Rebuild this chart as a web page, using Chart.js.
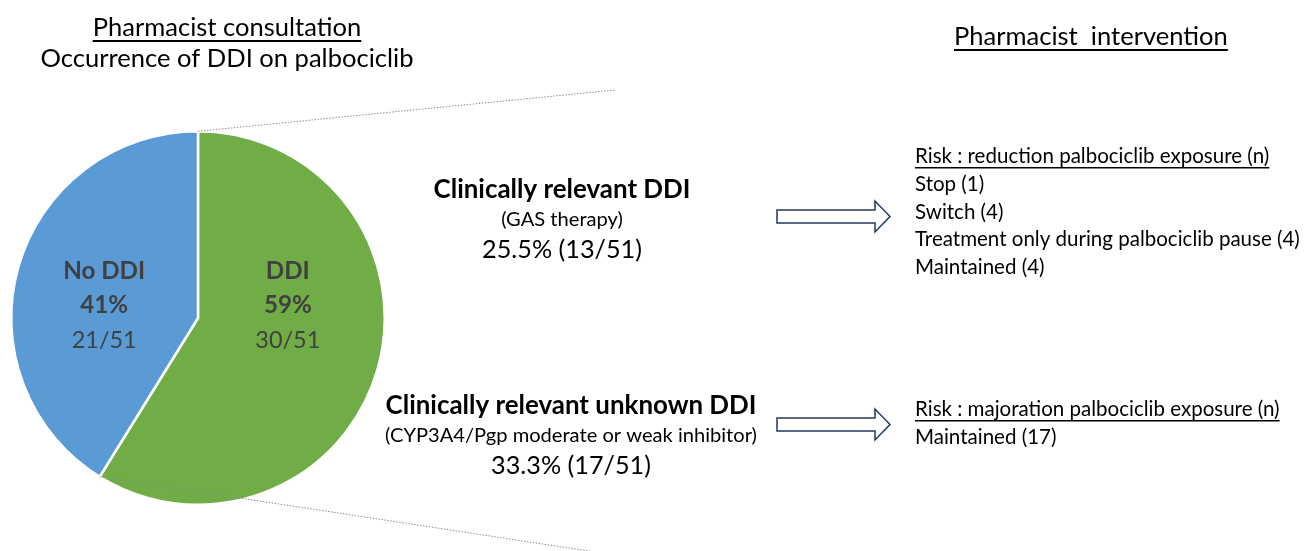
<!DOCTYPE html>
<html>
<head>
<meta charset="utf-8">
<title>Pharmacist consultation – DDI on palbociclib</title>
<script src="https://cdn.jsdelivr.net/npm/chart.js@4/dist/chart.umd.min.js"></script>
<style>
  html, body { margin: 0; padding: 0; background: #ffffff; }
  #wrap { width: 1314px; height: 551px; position: relative; }
</style>
</head>
<body>
<div id="wrap"><canvas id="c" width="1314" height="551"></canvas></div>
<script>
// ---- data ----
const categories = ['DDI', 'No DDI'];
const patientCounts = [30, 21];
const sliceColors = ['#70AD47', '#5B9BD5'];

const ddiGroups = ['Clinically relevant DDI', 'Clinically relevant unknown DDI'];
const ddiGroupNotes = ['(GAS therapy)', '(CYP3A4/Pgp moderate or weak inhibitor)'];
const ddiGroupCounts = [13, 17];

const riskHeaders = ['Risk : reduction palbociclib exposure (n)', 'Risk : majoration palbociclib exposure (n)'];
const reductionActions = ['Stop', 'Switch', 'Treatment only during palbociclib pause', 'Maintained'];
const reductionCounts = [1, 4, 4, 4];
const majorationActions = ['Maintained'];
const majorationCounts = [17];

const titleLeft = ['Pharmacist consultation', 'Occurrence of DDI on palbociclib'];
const titleRight = 'Pharmacist  intervention';

// ---- drawing helpers ----
const FAMILY = 'Lato, "Open Sans", sans-serif';
const total = patientCounts.reduce((a, b) => a + b, 0);

function sizeFor(ctx, text, weight, width) {
  ctx.font = `${weight} 100px ${FAMILY}`;
  return 100 * width / ctx.measureText(text).width;
}
function put(ctx, text, x, y, size, weight, color, align, underline) {
  ctx.font = `${weight} ${size}px ${FAMILY}`;
  ctx.fillStyle = color;
  ctx.textAlign = align;
  ctx.textBaseline = 'alphabetic';
  ctx.fillText(text, x, y);
  if (underline) {
    const w = ctx.measureText(text).width;
    const x0 = align === 'center' ? x - w / 2 : x;
    ctx.beginPath();
    ctx.strokeStyle = color;
    ctx.lineWidth = underline;
    ctx.moveTo(x0, y + 4 + underline / 2);
    ctx.lineTo(x0 + w, y + 4 + underline / 2);
    ctx.stroke();
  }
}
function blockArrow(ctx, x0, x1, cy) {
  const head = 15, half = 6.5, halfHead = 15.5;
  ctx.beginPath();
  ctx.moveTo(x0, cy - half);
  ctx.lineTo(x1 - head, cy - half);
  ctx.lineTo(x1 - head, cy - halfHead);
  ctx.lineTo(x1, cy);
  ctx.lineTo(x1 - head, cy + halfHead);
  ctx.lineTo(x1 - head, cy + half);
  ctx.lineTo(x0, cy + half);
  ctx.closePath();
  ctx.fillStyle = '#ffffff';
  ctx.fill();
  ctx.strokeStyle = '#1F3864';
  ctx.lineWidth = 1.5;
  ctx.stroke();
}
function pct(n, digits) { return (100 * n / total).toFixed(digits); }

const overlay = {
  id: 'overlay',
  afterDatasetsDraw(chart) {
    const ctx = chart.ctx;
    const arcs = chart.getDatasetMeta(0).data;
    const ddiArc = arcs[0];
    const cx = ddiArc.x, cy = ddiArc.y, r = ddiArc.outerRadius;
    ctx.save();

    // dotted zoom lines from the DDI slice toward the breakdown
    ctx.strokeStyle = '#8c8c8c';
    ctx.lineWidth = 1;
    ctx.setLineDash([1.5, 1.5]);
    ctx.beginPath();
    ctx.moveTo(cx + r * Math.cos(ddiArc.startAngle), cy + r * Math.sin(ddiArc.startAngle));
    ctx.lineTo(615, 90);
    ctx.moveTo(cx + r * Math.cos(ddiArc.endAngle), cy + r * Math.sin(ddiArc.endAngle));
    ctx.lineTo(602, 553);
    ctx.stroke();
    ctx.setLineDash([]);

    // slice labels
    const boldSize = sizeFor(ctx, 'No DDI', 'bold', 82);
    const fracSize = sizeFor(ctx, '21/51', 'normal', 65);
    const nudge = [0, -4];
    arcs.forEach((arc, i) => {
      const p = arc.getCenterPoint();
      const x = p.x + nudge[i];
      const v = patientCounts[i];
      put(ctx, categories[i], x, cy - 39, boldSize, 'bold', '#404040', 'center');
      put(ctx, Math.round(100 * v / total) + '%', x, cy - 5, boldSize, 'bold', '#404040', 'center');
      put(ctx, v + '/' + total, x, cy + 30, fracSize, 'normal', '#404040', 'center');
    });

    // titles
    const tSize = sizeFor(ctx, titleLeft[1], 'normal', 373);
    put(ctx, titleLeft[0], 227, 36, tSize, 'normal', '#000', 'center', 2);
    put(ctx, titleLeft[1], 227, 67, tSize, 'normal', '#000', 'center');
    put(ctx, titleRight, 954, 45, tSize, 'normal', '#000', 'left', 2);

    // DDI subgroups
    const hSize = sizeFor(ctx, ddiGroups[1], 'bold', 371);
    const nSize = sizeFor(ctx, ddiGroupNotes[1], 'normal', 372);
    const pSize = sizeFor(ctx, '33.3% (17/51)', 'normal', 160);
    const groupX = [562, 571];
    const groupY = [198, 414];
    ddiGroups.forEach((g, i) => {
      const y = groupY[i];
      put(ctx, g, groupX[i], y, hSize, 'bold', '#000', 'center');
      put(ctx, ddiGroupNotes[i], groupX[i], y + 28, nSize, 'normal', '#000', 'center');
      put(ctx, pct(ddiGroupCounts[i], 1) + '% (' + ddiGroupCounts[i] + '/' + total + ')', groupX[i], y + 60, pSize, 'normal', '#000', 'center');
    });

    // arrows
    blockArrow(ctx, 777, 890, 216.5);
    blockArrow(ctx, 777, 890, 424.5);

    // interventions
    const lSize = sizeFor(ctx, reductionActions[2] + ' (4)', 'normal', 385);
    const lx = 915, step = 27.8;
    put(ctx, riskHeaders[0], lx, 163, lSize, 'normal', '#000', 'left', 1.5);
    reductionActions.forEach((a, i) => {
      put(ctx, a + ' (' + reductionCounts[i] + ')', lx, 163 + step * (i + 1), lSize, 'normal', '#000', 'left');
    });
    put(ctx, riskHeaders[1], lx, 416, lSize, 'normal', '#000', 'left', 1.5);
    majorationActions.forEach((a, i) => {
      put(ctx, a + ' (' + majorationCounts[i] + ')', lx, 416 + step * (i + 1), lSize, 'normal', '#000', 'left');
    });

    ctx.restore();
  }
};

function build() {
  new Chart(document.getElementById('c'), {
    type: 'pie',
    data: {
      labels: categories,
      datasets: [{
        data: patientCounts,
        backgroundColor: sliceColors,
        borderColor: '#ffffff',
        borderWidth: 2.5
      }]
    },
    options: {
      responsive: false,
      animation: false,
      events: [],
      layout: { padding: { left: 10, top: 130, right: 928, bottom: 45 } },
      plugins: { legend: { display: false }, tooltip: { enabled: false } }
    },
    plugins: [overlay]
  });
}

if (document.fonts && document.fonts.load) {
  Promise.all([
    document.fonts.load('16px Lato'),
    document.fonts.load('bold 16px Lato')
  ]).then(build, build);
} else {
  build();
}
</script>
</body>
</html>
